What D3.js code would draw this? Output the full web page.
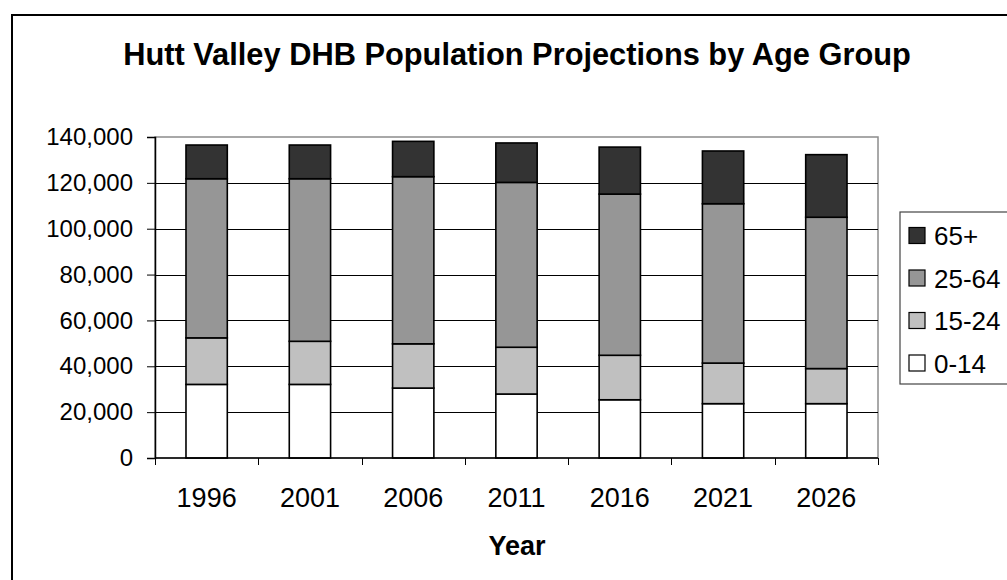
<!DOCTYPE html>
<html>
<head>
<meta charset="utf-8">
<script src="https://cdn.jsdelivr.net/npm/d3@7"></script>
<style>
  body { margin: 0; background: #fff; }
  svg { display: block; font-family: "Liberation Sans", Arial, sans-serif; }
</style>
</head>
<body>
<div id="chart"></div>
<script>
// values
const years = ["1996", "2001", "2006", "2011", "2016", "2021", "2026"];
const age0to14 = [32100, 32100, 30500, 27900, 25400, 23700, 23700];
const age15to24 = [20300, 18800, 19300, 20400, 19400, 17700, 15300];
const age25to64 = [69400, 70900, 72900, 71900, 70300, 69500, 66000];
const age65plus = [14700, 14700, 15400, 17200, 20500, 23000, 27300];
const groups = ["0-14", "15-24", "25-64", "65+"];
const groupColors = ["#ffffff", "#c0c0c0", "#969696", "#333333"];
const yTicks = [0, 20000, 40000, 60000, 80000, 100000, 120000, 140000];

const width = 1007;
const height = 580;

const svg = d3.select("#chart")
    .append("svg")
    .attr("width", width)
    .attr("height", height);

// outer chart border (runs off the right and bottom edge)
svg.append("rect")
    .attr("x", 12)
    .attr("y", 15)
    .attr("width", 1100)
    .attr("height", 700)
    .attr("fill", "#fff")
    .attr("stroke", "#000")
    .attr("stroke-width", 2);

svg.append("text")
    .attr("x", 517)
    .attr("y", 65)
    .attr("text-anchor", "middle")
    .attr("font-size", 30.8)
    .attr("font-weight", "bold")
    .text("Hutt Valley DHB Population Projections by Age Group");

const plot = { left: 155, right: 878, top: 137, bottom: 458 };

const table = years.map((y, i) => ({
    year: y,
    "0-14": age0to14[i],
    "15-24": age15to24[i],
    "25-64": age25to64[i],
    "65+": age65plus[i]
}));

const stack = d3.stack().keys(groups)(table);

const x = d3.scaleBand()
    .domain(years)
    .range([plot.left, plot.right])
    .paddingInner(0.6)
    .paddingOuter(0.3);

const y = d3.scaleLinear()
    .domain([0, 140000])
    .range([plot.bottom, plot.top]);

// plot area frame (grey)
svg.append("rect")
    .attr("x", plot.left)
    .attr("y", plot.top)
    .attr("width", plot.right - plot.left)
    .attr("height", plot.bottom - plot.top)
    .attr("fill", "#fff")
    .attr("stroke", "#8c8c8c")
    .attr("stroke-width", 1.5);

// gridlines
svg.append("g")
    .selectAll("line")
    .data(yTicks.slice(1, -1))
    .join("line")
    .attr("x1", plot.left)
    .attr("x2", plot.right)
    .attr("y1", d => Math.round(y(d)) + 0.5)
    .attr("y2", d => Math.round(y(d)) + 0.5)
    .attr("stroke", "#000")
    .attr("stroke-width", 1);

// bars
svg.append("g")
    .selectAll("g")
    .data(stack)
    .join("g")
    .attr("fill", (d, i) => groupColors[i])
    .selectAll("rect")
    .data(d => d)
    .join("rect")
    .attr("x", d => x(d.data.year))
    .attr("width", x.bandwidth())
    .attr("y", d => y(d[1]))
    .attr("height", d => y(d[0]) - y(d[1]))
    .attr("stroke", "#000")
    .attr("stroke-width", 1.6);

// y axis
const yAxis = d3.axisLeft(y)
    .tickValues(yTicks)
    .tickFormat(d3.format(","))
    .tickSize(8)
    .tickPadding(14);

const gy = svg.append("g")
    .attr("transform", `translate(${plot.left},0)`)
    .call(yAxis);
gy.select(".domain").attr("stroke", "#000").attr("stroke-width", 1.5);
gy.selectAll(".tick line").attr("stroke", "#000");
gy.selectAll(".tick text")
    .attr("font-size", 24)
    .attr("font-family", "Liberation Sans, Arial, sans-serif")
    .attr("fill", "#000");

// x axis: ticks between categories
const boundaries = d3.range(years.length + 1).map(i => plot.left + i * x.step());
svg.append("line")
    .attr("x1", plot.left)
    .attr("x2", plot.right)
    .attr("y1", plot.bottom)
    .attr("y2", plot.bottom)
    .attr("stroke", "#000")
    .attr("stroke-width", 1.5);

svg.append("g")
    .selectAll("line")
    .data(boundaries)
    .join("line")
    .attr("x1", d => Math.round(d) + 0.5)
    .attr("x2", d => Math.round(d) + 0.5)
    .attr("y1", plot.bottom)
    .attr("y2", plot.bottom + 7)
    .attr("stroke", "#000");

svg.append("g")
    .selectAll("text")
    .data(years)
    .join("text")
    .attr("x", d => x(d) + x.bandwidth() / 2)
    .attr("y", 507)
    .attr("text-anchor", "middle")
    .attr("font-size", 27)
    .text(d => d);

svg.append("text")
    .attr("x", 517)
    .attr("y", 555)
    .attr("text-anchor", "middle")
    .attr("font-size", 27)
    .attr("font-weight", "bold")
    .text("Year");

// legend
const legend = svg.append("g");
legend.append("rect")
    .attr("x", 900)
    .attr("y", 212)
    .attr("width", 200)
    .attr("height", 172)
    .attr("fill", "#fff")
    .attr("stroke", "#444")
    .attr("stroke-width", 1.2);

const legendOrder = [3, 2, 1, 0];
const items = legend.selectAll("g.item")
    .data(legendOrder)
    .join("g")
    .attr("class", "item")
    .attr("transform", (d, i) => `translate(909,${235.5 + i * 42.5})`);

items.append("rect")
    .attr("x", 0)
    .attr("y", -8)
    .attr("width", 16)
    .attr("height", 16)
    .attr("fill", d => groupColors[d])
    .attr("stroke", "#000")
    .attr("stroke-width", 1.2);

items.append("text")
    .attr("x", 25)
    .attr("y", 9.5)
    .attr("font-size", 26)
    .text(d => groups[d]);
</script>
</body>
</html>
